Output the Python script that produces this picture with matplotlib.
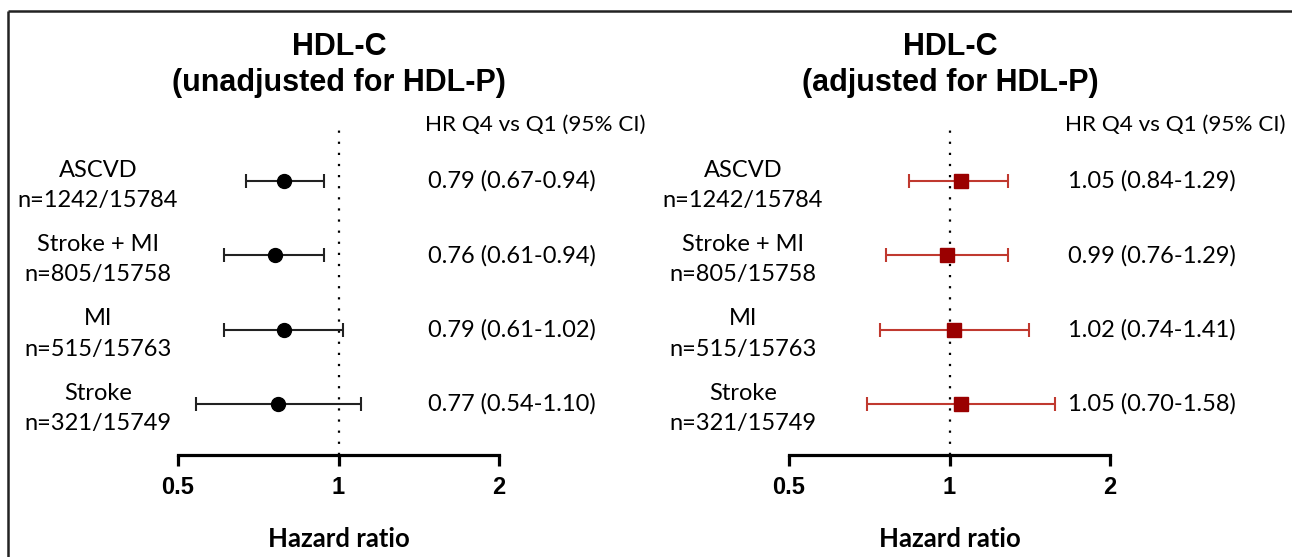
import matplotlib
matplotlib.use("Agg")
import matplotlib.pyplot as plt
import matplotlib.transforms as mtransforms
from matplotlib.lines import Line2D

# outcomes and event counts
outcomes = ["ASCVD", "Stroke + MI", "MI", "Stroke"]
counts = ["n=1242/15784", "n=805/15758", "n=515/15763", "n=321/15749"]

# HR Q4 vs Q1 with 95% CI, HDL-C unadjusted for HDL-P
hr_unadj = [0.79, 0.76, 0.79, 0.77]
lo_unadj = [0.67, 0.61, 0.61, 0.54]
hi_unadj = [0.94, 0.94, 1.02, 1.10]

# HR Q4 vs Q1 with 95% CI, HDL-C adjusted for HDL-P
hr_adj = [1.05, 0.99, 1.02, 1.05]
lo_adj = [0.84, 0.76, 0.74, 0.70]
hi_adj = [1.29, 1.29, 1.41, 1.58]

xticks = [0.5, 1, 2]
xticklabels = ["0.5", "1", "2"]

LABEL_FONT = "Lato"
TITLE_FONT = "Liberation Sans"

W, H = 1292, 557
fig = plt.figure(figsize=(W / 100, H / 100), dpi=100)

# open frame: top and left edges only
fig.add_artist(Line2D([8 / W, 1], [1 - 11 / H, 1 - 11 / H], transform=fig.transFigure,
                      color="#222222", lw=1.8, solid_capstyle="butt"))
fig.add_artist(Line2D([8 / W, 8 / W], [1 - 11 / H, 0], transform=fig.transFigure,
                      color="#222222", lw=1.8, solid_capstyle="butt"))


def forest(left_px, label_px, value_px, hr, lo, hi, title, marker, mcolor, ecolor):
    ax = fig.add_axes([left_px / W, 1 - 455 / H, 321 / W, 325 / H])
    ax.set_xscale("log")
    ax.set_xlim(0.5, 2)
    ax.set_ylim(3.686, -0.686)
    rows = list(range(len(outcomes)))

    ax.axvline(1, color="black", lw=1.6, linestyle=(0, (1, 4)), zorder=1)
    err = [[h - l for h, l in zip(hr, lo)], [u - h for h, u in zip(hr, hi)]]
    ax.errorbar(hr, rows, xerr=err, fmt="none", ecolor=ecolor, elinewidth=1.5,
                capsize=5, capthick=1.5, zorder=2)
    ax.plot(hr, rows, linestyle="none", marker=marker, color=mcolor,
            markersize=10 if marker == "o" else 9.5, zorder=3)

    for s in ["top", "right", "left"]:
        ax.spines[s].set_visible(False)
    ax.spines["bottom"].set_linewidth(2.3)
    ax.spines["bottom"].set_capstyle("projecting")
    ax.set_yticks([])
    ax.set_xticks(xticks)
    ax.set_xticklabels(xticklabels, fontfamily=TITLE_FONT, fontweight="bold", fontsize=17)
    ax.minorticks_off()
    ax.tick_params(axis="x", direction="out", length=8, width=2.3, pad=7)
    ax.set_xlabel("Hazard ratio", fontfamily=LABEL_FONT, fontweight="bold",
                  fontsize=18.5, labelpad=20)

    trans_lab = mtransforms.blended_transform_factory(fig.transFigure, ax.transData)
    for i, (name, n) in enumerate(zip(outcomes, counts)):
        ax.text(label_px / W, i + 0.06, name + "\n" + n, transform=trans_lab,
                ha="center", va="center", fontfamily=LABEL_FONT, fontsize=17,
                linespacing=1.55)
        ax.text(value_px / W, i, f"{hr[i]:.2f} ({lo[i]:.2f}-{hi[i]:.2f})",
                transform=trans_lab, ha="left", va="center",
                fontfamily=LABEL_FONT, fontsize=17)

    fig.text(value_px / W - 3 / W, 1 - 125 / H, "HR Q4 vs Q1 (95% CI)",
             ha="left", va="center", fontfamily=LABEL_FONT, fontsize=16.2)
    fig.text((left_px + 161) / W, 1 - 65 / H, title, ha="center", va="center",
             fontfamily=TITLE_FONT, fontweight="bold", fontsize=22, linespacing=1.3)
    return ax


forest(178, 98, 428, hr_unadj, lo_unadj, hi_unadj,
       "HDL-C\n(unadjusted for HDL-P)", "o", "black", "#222222")
forest(789, 743, 1068, hr_adj, lo_adj, hi_adj,
       "HDL-C\n(adjusted for HDL-P)", "s", "#9a0000", "#c0392f")

fig.savefig("out.png", dpi=100)
